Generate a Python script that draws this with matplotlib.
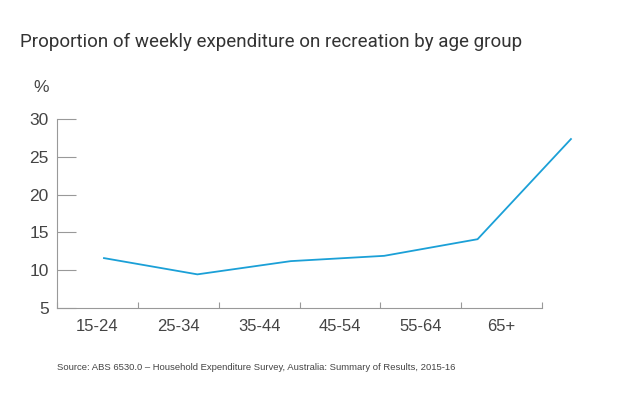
import matplotlib
matplotlib.use("Agg")
import matplotlib.pyplot as plt

categories = ["15-24", "25-34", "35-44", "45-54", "55-64", "65+"]
values = [11.6, 9.45, 11.2, 11.9, 14.1, 27.35]
yticks = [5, 10, 15, 20, 25, 30]

plt.rcParams['font.family'] = ['Liberation Sans', 'DejaVu Sans']

fig = plt.figure(figsize=(6.4, 3.98), dpi=100)
ax = fig.add_axes([57/640, 1-308/398, (542-57)/640, (308-119)/398])

ax.set_ylim(5, 30)
ax.set_xlim(-0.5, len(categories) - 0.5)
ax.set_yticks(yticks)
ax.set_yticklabels([str(t) for t in yticks], fontsize=12.5, color='#444444')
ax.set_xticks(range(len(categories)))
ax.set_xticklabels(categories, fontsize=12, color='#444444')
ax.tick_params(axis='x', length=0, pad=8)
ax.set_xticks([i - 0.5 for i in range(len(categories) + 1)], minor=True)
ax.tick_params(axis='x', which='minor', direction='in', length=4, color='#999999', width=0.8)
ax.tick_params(axis='y', direction='in', length=14, color='#999999', width=0.8, pad=6)
for s in ['top', 'right']:
    ax.spines[s].set_visible(False)
for s in ['left', 'bottom']:
    ax.spines[s].set_color('#999999')
    ax.spines[s].set_linewidth(0.8)

# line drawn on its own horizontal scale (offset from category labels, as in the original)
ax2 = ax.twiny()
ax2.set_xlim(-0.503, 4.69)
ax2.set_ylim(5, 30)
ax2.axis('off')
ax2.plot(range(len(values)), values, color='#1ba0d7', linewidth=1.3, clip_on=False,
         solid_joinstyle='miter')

fig.text(20/640, 1-42/398, "Proportion of weekly expenditure on recreation by age group",
         fontsize=13.5, color='#333333', va='center', ha='left',
         family=['Roboto', 'DejaVu Sans'])
fig.text(33/640, 1-87/398, "%", fontsize=12.5, color='#444444', va='center', ha='left')
fig.text(57/640, 1-368/398,
         "Source: ABS 6530.0 \u2013 Household Expenditure Survey, Australia: Summary of Results, 2015-16",
         fontsize=6.8, color='#444444', va='center', ha='left')

fig.savefig("out.png", dpi=100, facecolor='white')
